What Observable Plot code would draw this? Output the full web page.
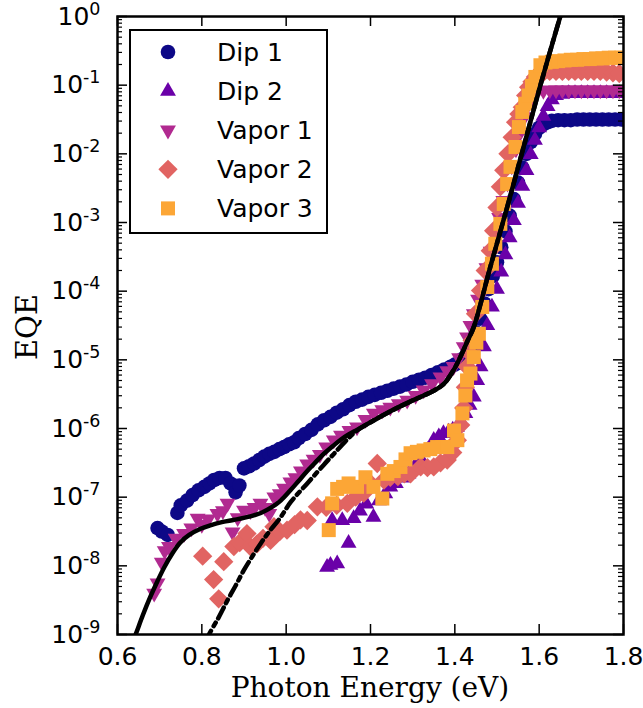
<!DOCTYPE html>
<html><head><meta charset="utf-8">
<script src="https://cdn.jsdelivr.net/npm/d3@7"></script>
<script src="https://cdn.jsdelivr.net/npm/@observablehq/plot@0.6"></script>
<style>
body{margin:0;background:#fff;}
#chart{position:relative;width:643px;height:708px;}
</style></head><body><div id="chart"></div>
<script>
// ---- data: [photon energy (eV), log10(EQE)] ----
const seriesNames = ["Dip 1","Dip 2","Vapor 1","Vapor 2","Vapor 3"];
const seriesColors = ["#0d0887","#6a00a8","#b12a90","#e16462","#fca636"];

const dip1 = [[0.695,-7.45],[0.705,-7.50],[0.719,-7.55],[0.742,-7.23],[0.750,-7.12],[0.765,-7.05],[0.778,-6.97],[0.792,-6.90],[0.806,-6.85],[0.818,-6.80],[0.829,-6.75],[0.842,-6.72],[0.856,-6.72],[0.868,-6.80],[0.880,-6.93],[0.889,-6.83],[0.900,-6.58],[0.912,-6.55],[0.924,-6.51],[0.936,-6.46],[0.948,-6.41],[0.960,-6.37],[0.972,-6.34],[0.984,-6.30],[0.995,-6.27],[1.007,-6.23],[1.019,-6.20],[1.030,-6.14],[1.045,-6.08],[1.060,-6.02],[1.075,-5.94],[1.090,-5.88],[1.105,-5.83],[1.120,-5.77],[1.135,-5.72],[1.150,-5.66],[1.165,-5.61],[1.180,-5.58],[1.195,-5.54],[1.210,-5.51],[1.225,-5.48],[1.240,-5.45],[1.255,-5.42],[1.270,-5.39],[1.285,-5.36],[1.300,-5.32],[1.315,-5.29],[1.330,-5.26],[1.345,-5.22],[1.360,-5.18],[1.375,-5.14],[1.390,-5.10],[1.400,-5.07],[1.410,-5.04],[1.420,-4.98],[1.430,-4.90],[1.440,-4.80],[1.450,-4.60],[1.460,-4.40],[1.470,-4.18],[1.480,-3.97],[1.490,-3.78],[1.500,-3.58],[1.510,-3.36],[1.520,-3.13],[1.530,-2.90],[1.540,-2.66],[1.550,-2.42],[1.560,-2.20],[1.570,-2.00],[1.580,-1.83],[1.590,-1.71],[1.600,-1.62],[1.610,-1.57],[1.620,-1.54],[1.630,-1.52],[1.645,-1.51],[1.660,-1.51],[1.675,-1.51],[1.690,-1.50],[1.705,-1.50],[1.720,-1.50],[1.735,-1.50],[1.750,-1.50],[1.765,-1.50],[1.780,-1.50],[1.795,-1.50]];

const dip2 = [[1.097,-8.02],[1.105,-7.99],[1.109,-7.34],[1.121,-7.97],[1.133,-7.34],[1.148,-7.67],[1.160,-7.31],[1.175,-7.20],[1.190,-7.10],[1.207,-7.29],[1.220,-7.05],[1.235,-6.95],[1.247,-6.85],[1.260,-6.80],[1.275,-6.72],[1.290,-6.66],[1.305,-6.55],[1.320,-6.45],[1.335,-6.32],[1.350,-6.17],[1.362,-6.12],[1.373,-6.07],[1.385,-6.05],[1.395,-6.02],[1.405,-5.98],[1.415,-5.90],[1.425,-5.78],[1.435,-5.66],[1.445,-5.54],[1.453,-5.30],[1.461,-5.10],[1.469,-4.81],[1.477,-4.50],[1.488,-4.23],[1.500,-3.97],[1.510,-3.72],[1.520,-3.47],[1.530,-3.22],[1.540,-2.97],[1.550,-2.72],[1.560,-2.47],[1.570,-2.24],[1.580,-2.01],[1.590,-1.80],[1.600,-1.62],[1.610,-1.45],[1.620,-1.31],[1.630,-1.21],[1.640,-1.15],[1.655,-1.13],[1.670,-1.12],[1.685,-1.12],[1.700,-1.12],[1.715,-1.12],[1.730,-1.12],[1.745,-1.12],[1.760,-1.12],[1.775,-1.12],[1.790,-1.12]];

const vapor1 = [[0.687,-8.40],[0.695,-8.25],[0.705,-7.95],[0.712,-7.78],[0.722,-7.72],[0.738,-7.60],[0.758,-7.53],[0.775,-7.45],[0.790,-7.31],[0.800,-7.40],[0.815,-7.32],[0.837,-7.24],[0.850,-7.20],[0.861,-7.09],[0.873,-7.51],[0.885,-7.30],[0.900,-7.19],[0.915,-7.20],[0.925,-7.15],[0.939,-7.09],[0.950,-7.15],[0.960,-7.24],[0.972,-7.00],[0.985,-6.95],[0.995,-6.87],[1.010,-6.78],[1.022,-6.72],[1.035,-6.62],[1.050,-6.52],[1.065,-6.45],[1.080,-6.38],[1.095,-6.27],[1.113,-6.17],[1.130,-6.10],[1.150,-6.03],[1.168,-5.98],[1.188,-5.87],[1.208,-5.78],[1.228,-5.73],[1.247,-5.69],[1.267,-5.64],[1.287,-5.59],[1.307,-5.52],[1.326,-5.44],[1.346,-5.35],[1.366,-5.25],[1.382,-5.16],[1.397,-5.10],[1.410,-4.97],[1.421,-4.81],[1.429,-4.67],[1.437,-4.50],[1.445,-4.33],[1.455,-4.12],[1.465,-3.90],[1.475,-3.66],[1.485,-3.42],[1.495,-3.18],[1.505,-2.93],[1.515,-2.68],[1.525,-2.43],[1.535,-2.18],[1.545,-1.93],[1.555,-1.69],[1.565,-1.46],[1.575,-1.27],[1.585,-1.15],[1.595,-1.10],[1.610,-1.08],[1.625,-1.07],[1.640,-1.07],[1.655,-1.07],[1.670,-1.07],[1.685,-1.07],[1.700,-1.07],[1.715,-1.07],[1.730,-1.07],[1.745,-1.07],[1.760,-1.07],[1.775,-1.07],[1.790,-1.07]];

const vapor2 = [[0.802,-7.86],[0.828,-8.20],[0.840,-8.48],[0.852,-7.94],[0.876,-7.72],[0.890,-7.66],[0.907,-7.53],[0.915,-7.72],[0.931,-7.68],[0.945,-7.60],[0.963,-7.63],[0.971,-7.43],[0.985,-7.50],[1.002,-7.48],[1.020,-7.40],[1.034,-7.33],[1.050,-7.34],[1.074,-7.14],[1.095,-7.15],[1.120,-7.12],[1.145,-7.09],[1.165,-7.00],[1.184,-6.94],[1.200,-6.80],[1.216,-6.51],[1.232,-6.75],[1.247,-6.71],[1.265,-6.70],[1.280,-6.66],[1.295,-6.66],[1.319,-6.56],[1.335,-6.57],[1.350,-6.56],[1.366,-6.50],[1.382,-6.46],[1.395,-6.35],[1.406,-6.17],[1.414,-5.95],[1.421,-5.70],[1.425,-5.40],[1.429,-5.10],[1.435,-4.90],[1.441,-4.72],[1.449,-4.33],[1.461,-3.99],[1.472,-3.70],[1.484,-3.41],[1.492,-3.12],[1.500,-2.78],[1.508,-2.48],[1.516,-2.24],[1.526,-2.00],[1.536,-1.76],[1.544,-1.54],[1.552,-1.42],[1.560,-1.32],[1.568,-1.15],[1.575,-1.03],[1.583,-0.95],[1.591,-0.88],[1.600,-0.83],[1.611,-0.81],[1.625,-0.80],[1.640,-0.80],[1.655,-0.80],[1.670,-0.80],[1.685,-0.80],[1.700,-0.80],[1.715,-0.80],[1.730,-0.80],[1.745,-0.80],[1.760,-0.81],[1.775,-0.82],[1.790,-0.83]];

const vapor3 = [[1.101,-7.48],[1.109,-7.09],[1.121,-6.88],[1.135,-6.85],[1.148,-6.80],[1.168,-6.85],[1.188,-6.71],[1.207,-6.85],[1.228,-7.02],[1.240,-6.66],[1.255,-6.62],[1.271,-6.56],[1.283,-6.45],[1.295,-6.36],[1.310,-6.34],[1.326,-6.32],[1.342,-6.30],[1.358,-6.27],[1.370,-6.27],[1.382,-6.27],[1.398,-6.03],[1.406,-6.17],[1.418,-5.78],[1.425,-5.52],[1.429,-5.30],[1.437,-5.20],[1.445,-4.96],[1.451,-4.75],[1.457,-4.62],[1.465,-4.23],[1.477,-3.94],[1.488,-3.60],[1.496,-3.31],[1.508,-3.02],[1.516,-2.73],[1.524,-2.44],[1.532,-2.19],[1.544,-1.90],[1.552,-1.61],[1.560,-1.39],[1.567,-1.27],[1.575,-1.15],[1.583,-1.01],[1.591,-0.88],[1.603,-0.71],[1.615,-0.67],[1.630,-0.66],[1.645,-0.65],[1.660,-0.64],[1.675,-0.63],[1.690,-0.63],[1.705,-0.62],[1.720,-0.62],[1.735,-0.61],[1.750,-0.61],[1.765,-0.60],[1.780,-0.60],[1.795,-0.60]];

// model curves
const fitSolid = [[0.635,-9.12],[0.643,-9.00],[0.660,-8.72],[0.678,-8.45],[0.695,-8.22],[0.711,-8.02],[0.730,-7.82],[0.749,-7.66],[0.770,-7.55],[0.797,-7.46],[0.820,-7.41],[0.850,-7.36],[0.877,-7.33],[0.915,-7.28],[0.940,-7.23],[0.965,-7.15],[0.987,-7.05],[1.010,-6.90],[1.030,-6.76],[1.050,-6.62],[1.070,-6.49],[1.089,-6.37],[1.110,-6.26],[1.130,-6.16],[1.150,-6.08],[1.168,-6.02],[1.200,-5.91],[1.247,-5.75],[1.290,-5.62],[1.326,-5.52],[1.350,-5.45],[1.374,-5.35],[1.397,-5.15],[1.413,-4.96],[1.429,-4.74],[1.445,-4.52],[1.484,-3.65],[1.524,-2.78],[1.563,-1.90],[1.603,-1.00],[1.650,0.00],[1.660,0.20]];
const fitDashDot = [[0.810,-9.10],[0.817,-9.00],[0.840,-8.75],[0.861,-8.50],[0.880,-8.29],[0.900,-8.06],[0.920,-7.86],[0.940,-7.67],[0.960,-7.50],[0.986,-7.30],[1.011,-7.07],[1.050,-6.80],[1.089,-6.53],[1.113,-6.37],[1.140,-6.19],[1.168,-6.03],[1.200,-5.91],[1.247,-5.75],[1.290,-5.62],[1.326,-5.52],[1.350,-5.45],[1.374,-5.35],[1.397,-5.15],[1.413,-4.96],[1.429,-4.74],[1.445,-4.52],[1.484,-3.65],[1.524,-2.78],[1.563,-1.90],[1.603,-1.00],[1.650,0.00],[1.660,0.20]];

// ticks
const xTicks = [0.6, 0.8, 1.0, 1.2, 1.4, 1.6, 1.8];
const yExponents = [-9,-8,-7,-6,-5,-4,-3,-2,-1,0];
const minorMultipliers = [2,3,4,5,6,7,8,9];

// ---- build tables ----
const toRows = (arr) => arr.map(([E, lg]) => ({E, eqe: Math.pow(10, lg)}));
const seriesData = [dip1, dip2, vapor1, vapor2, vapor3].map(toRows);
const seriesStyle = [
  {symbol: "circle", rotate: 0, r: 7.3},
  {symbol: "triangle", rotate: 0, r: 5.9},
  {symbol: "triangle", rotate: 180, r: 5.9},
  {symbol: "square", rotate: 45, r: 7.7},
  {symbol: "square", rotate: 0, r: 7.9}
];
const yMajor = yExponents.map(e => Math.pow(10, e));
const yMinor = yExponents.slice(0, -1).flatMap(e => minorMultipliers.map(m => m * Math.pow(10, e)));

const W = 643, H = 708, mL = 117, mR = 20, mT = 16, mB = 74;
const pw = W - mL - mR, ph = H - mT - mB;

const dotMarks = seriesData.map((rows, i) => Plot.dot(rows, {
  x: "E", y: "eqe", fill: seriesColors[i], stroke: "none",
  r: seriesStyle[i].r, symbol: seriesStyle[i].symbol, rotate: seriesStyle[i].rotate, clip: true
}));

const plot = Plot.plot({
  width: W, height: H,
  marginLeft: mL, marginRight: mR, marginTop: mT, marginBottom: mB,
  style: {fontFamily: "DejaVu Sans", fontSize: "25px", color: "black", background: "white", overflow: "visible"},
  x: {domain: [0.6, 1.8]},
  y: {type: "log", domain: [1e-9, 1]},
  marks: [
    ...dotMarks,
    Plot.line(toRows(fitDashDot), {x: "E", y: "eqe", stroke: "black", strokeWidth: 4.5, strokeDasharray: "12,5,4,5", curve: "catmull-rom", clip: true}),
    Plot.line(toRows(fitSolid), {x: "E", y: "eqe", stroke: "black", strokeWidth: 4.5, curve: "catmull-rom", clip: true}),
    // inward major ticks
    Plot.tickX(xTicks, {x: d => d, stroke: "black", strokeWidth: 1.5, insetTop: ph - 10}),
    Plot.tickX(xTicks, {x: d => d, stroke: "black", strokeWidth: 1.5, insetBottom: ph - 10}),
    Plot.tickY(yMajor, {y: d => d, stroke: "black", strokeWidth: 1.5, insetRight: pw - 10}),
    Plot.tickY(yMajor, {y: d => d, stroke: "black", strokeWidth: 1.5, insetLeft: pw - 10}),
    Plot.tickY(yMinor, {y: d => d, stroke: "black", strokeWidth: 1.2, insetRight: pw - 5}),
    Plot.tickY(yMinor, {y: d => d, stroke: "black", strokeWidth: 1.2, insetLeft: pw - 5}),
    Plot.frame({stroke: "black", strokeWidth: 2.5}),
    Plot.axisX({ticks: xTicks, anchor: "bottom", tickSize: 0, tickPadding: 13, tickFormat: d3.format(".1f"), label: null, fontSize: 25}),
    Plot.axisY({ticks: yMajor, anchor: "left", tickSize: 0, tickPadding: 17, tickFormat: d => String(Math.round(Math.log10(d))), label: null, fontSize: 25})
  ]
});

document.getElementById("chart").appendChild(plot);

// superscript exponents on y tick labels (10^n)
const NS = "http://www.w3.org/2000/svg";
plot.querySelectorAll('g[aria-label="y-axis tick label"] text').forEach(t => {
  const exp = t.textContent;
  t.textContent = "";
  const base = document.createElementNS(NS, "tspan");
  base.textContent = "10";
  const sup = document.createElementNS(NS, "tspan");
  sup.setAttribute("dy", "-10");
  sup.setAttribute("font-size", "17.5");
  sup.textContent = exp;
  t.appendChild(base); t.appendChild(sup);
});

const svg = d3.select(plot);
// axis titles
svg.append("text").attr("x", mL + pw / 2).attr("y", 697)
  .attr("text-anchor", "middle").attr("font-family", "DejaVu Serif").attr("font-size", 28)
  .attr("fill", "black").text("Photon Energy (eV)");
svg.append("text").attr("transform", "translate(37,327) rotate(-90)")
  .attr("text-anchor", "middle").attr("font-family", "DejaVu Serif").attr("font-size", 29)
  .attr("fill", "black").text("EQE");

// legend
const lg = svg.append("g").attr("aria-label", "legend");
lg.append("rect").attr("x", 130).attr("y", 30).attr("width", 197).attr("height", 203)
  .attr("fill", "white").attr("stroke", "black").attr("stroke-width", 2);
const symType = {circle: d3.symbolCircle, triangle: d3.symbolTriangle, square: d3.symbolSquare};
seriesNames.forEach((name, i) => {
  const cy = 52 + i * 39.1;
  const st = seriesStyle[i];
  lg.append("path")
    .attr("d", d3.symbol(symType[st.symbol], Math.PI * st.r * st.r)())
    .attr("transform", `translate(168,${cy}) rotate(${st.rotate})`)
    .attr("fill", seriesColors[i]);
  lg.append("text").attr("x", 217).attr("y", cy).attr("dy", "0.35em")
    .attr("text-anchor", "start")
    .attr("font-family", "DejaVu Sans").attr("font-size", 25).attr("fill", "black").text(name);
});
</script>
</body></html>
